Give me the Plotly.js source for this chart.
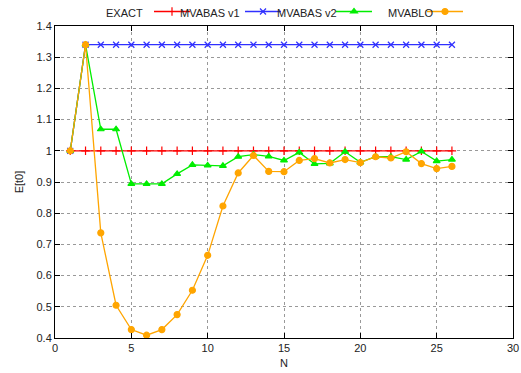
<!DOCTYPE html>
<html>
<head>
<meta charset="utf-8">
<script src="https://cdn.plot.ly/plotly-3.0.1.min.js"></script>
<style>html,body{margin:0;padding:0;background:#fff;}#chart{width:521px;height:373px;}</style>
</head>
<body>
<div id="chart"></div>
<script>
var N = [1,2,3,4,5,6,7,8,9,10,11,12,13,14,15,16,17,18,19,20,21,22,23,24,25,26];
var exact = [1,1,1,1,1,1,1,1,1,1,1,1,1,1,1,1,1,1,1,1,1,1,1,1,1,1];
var mvabasV1 = [1,1.34,1.34,1.34,1.34,1.34,1.34,1.34,1.34,1.34,1.34,1.34,1.34,1.34,1.34,1.34,1.34,1.34,1.34,1.34,1.34,1.34,1.34,1.34,1.34,1.34];
var mvabasV2 = [1,1.34,1.069,1.069,0.894,0.894,0.894,0.926,0.955,0.953,0.952,0.981,0.988,0.982,0.969,0.995,0.958,0.96,0.997,0.963,0.981,0.981,0.972,0.998,0.967,0.972];
var mvablo = [1,1.34,0.737,0.505,0.427,0.409,0.427,0.475,0.553,0.665,0.823,0.929,0.985,0.934,0.933,0.969,0.975,0.961,0.972,0.962,0.981,0.977,0.997,0.959,0.943,0.95];
var names = ["EXACT","MVABAS v1","MVABAS v2","MVABLO"];
var colors = ["#ff0000","#3030ff","#00ee00","#ffa500"];
var symbols = ["cross-thin-open","x-thin-open","triangle-up","circle"];
var series = [exact, mvabasV1, mvabasV2, mvablo];

var traces = series.map(function(s,i){
  return {
    x: N, y: s, type: 'scatter', mode: 'lines+markers', name: ' ',
    line: {color: colors[i], width: 1.3},
    marker: {symbol: symbols[i], color: colors[i], size: 6, line: {color: colors[i], width: 1.2}},
    showlegend: true
  };
});

var font = {family: 'Liberation Sans, Arial, sans-serif', size: 11, color: '#222'};
var axisCommon = {
  showline: true, linecolor: '#000', linewidth: 1, mirror: 'allticks',
  ticks: 'inside', ticklen: 5, tickcolor: '#000',
  showgrid: true, gridcolor: '#999', griddash: 'dot', gridwidth: 1,
  zeroline: false, tickfont: font
};
var layout = {
  width: 521, height: 373,
  margin: {l: 55, r: 8, t: 26, b: 35, autoexpand: false},
  paper_bgcolor: '#fff', plot_bgcolor: '#fff',
  font: font,
  xaxis: Object.assign({}, axisCommon, {range: [0,30], dtick: 5, tick0: 0,
    title: {text: 'N', font: font, standoff: 6}}),
  yaxis: Object.assign({}, axisCommon, {range: [0.4,1.4], dtick: 0.1, tick0: 0.4,
    tickformat: '.1~f',
    title: {text: 'E[t0]', font: font, standoff: 10}}),
  legend: {orientation: 'h', x: 1.0, xanchor: 'right', y: 1, yanchor: 'bottom',
    itemwidth: 36, entrywidth: 40, entrywidthmode: 'pixels', traceorder: 'normal',
    bgcolor: 'rgba(0,0,0,0)', font: font, itemclick: false, borderwidth: 0},
  annotations: names.map(function(n,i){
    var ends = [145, 242, 339, 435];
    return {text: n, xref: 'paper', yref: 'paper', x: (ends[i]-55)/458, y: (338-13)/312,
      xanchor: 'right', yanchor: 'middle', showarrow: false, font: font};
  })
};
Plotly.newPlot('chart', traces, layout, {displayModeBar: false, staticPlot: true});
</script>
</body>
</html>
